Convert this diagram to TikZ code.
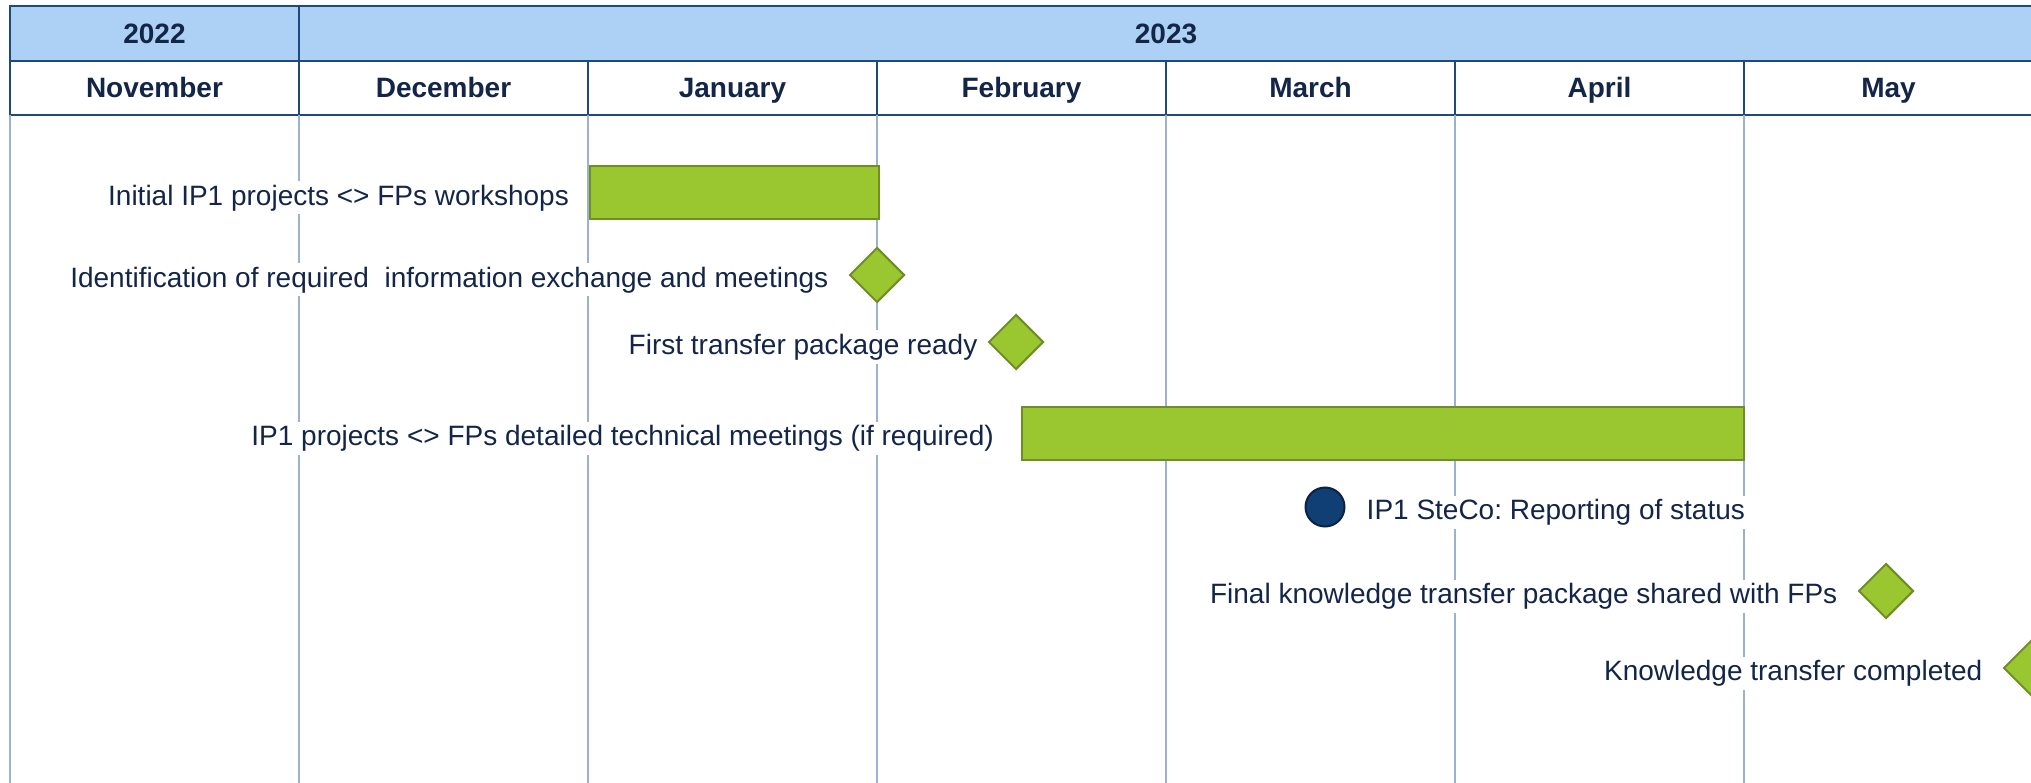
\documentclass[tikz,border=0pt]{standalone}
\usepackage{fontspec}
\setmainfont{Liberation Sans}
\usepackage{tikz}
\usetikzlibrary{shapes.geometric,positioning}
\frenchspacing

\definecolor{headblue}{RGB}{173,209,245}
\definecolor{edgeblue}{RGB}{31,73,125}
\definecolor{inkblue}{RGB}{19,38,72}
\definecolor{gridblue}{RGB}{155,178,206}
\definecolor{barfill}{RGB}{154,198,48}
\definecolor{baredge}{RGB}{112,142,40}
\definecolor{dotfill}{RGB}{16,63,115}
\definecolor{dotedge}{RGB}{10,34,68}

\tikzset{
  yearcell/.style={draw=edgeblue, line width=1.3pt, fill=headblue, inner sep=0pt, outer sep=0pt,
    minimum height=55pt, text height=26pt, text depth=6pt, text=inkblue,
    font=\fontsize{28}{33}\selectfont\bfseries},
  monthcell/.style={draw=edgeblue, line width=1.3pt, fill=white, inner sep=0pt, outer sep=0pt,
    minimum width=289pt, minimum height=54pt, text height=26pt, text depth=6pt, text=inkblue,
    font=\fontsize{28}{33}\selectfont\bfseries},
  gridline/.style={draw=gridblue, line width=1.2pt},
  taskbar/.style={draw=baredge, line width=2pt, fill=barfill, inner sep=0pt, minimum height=53pt},
  milestone/.style={diamond, aspect=1, draw=baredge, line width=2pt, fill=barfill, inner sep=0pt, minimum size=55pt},
  steering/.style={circle, draw=dotedge, line width=2pt, fill=dotfill, inner sep=0pt, minimum size=39pt},
  tasklabel/.style={fill=white, inner sep=3pt, text height=21pt, text depth=6pt, yshift=-5pt,
    text=inkblue, font=\fontsize{28}{33}\selectfont}
}

\begin{document}
\begin{tikzpicture}[x=1pt,y=-1pt]
      \useasboundingbox (0,0) rectangle (2031,783);
      \coordinate (bottom) at (0,783);

      % header rows
      \node[yearcell, minimum width=289pt] (y2022) at (154.5,33.5) {2022};
      \node[yearcell, minimum width=1734pt] (y2023) at (1166,33.5) {2023};
      \foreach \mname [count=\i] in {November,December,January,February,March,April,May}
        \node[monthcell] (m\i) at ({10+(\i-0.5)*289},88) {\mname};

      % month grid
      \foreach \i in {1,...,7}
        \draw[gridline] (m\i.south west) -- (m\i.south west |- bottom);

      % tasks
      \node[taskbar, minimum width=289pt] (workshops) at (734.5,193) {};
      \node[tasklabel, left=17pt of workshops] (workshopstxt) {Initial IP1 projects <> FPs workshops};

      \node[milestone] (ident) at (877,275) {};
      \node[tasklabel, left=17pt of ident] (identtxt) {Identification of required \ information exchange and meetings};

      \node[milestone] (firstpkg) at (1016,342) {};
      \node[tasklabel, left=7pt of firstpkg] (firstpkgtxt) {First transfer package ready};

      \node[taskbar, minimum width=722pt] (techmeet) at (1383,433) {};
      \node[tasklabel, left=24pt of techmeet] (techmeettxt) {IP1 projects <> FPs detailed technical meetings (if required)};

      \node[steering] (steco) at (1325,507) {};
      \node[tasklabel, right=18pt of steco] (stecotxt) {IP1 SteCo: Reporting of status};

      \node[milestone] (finalpkg) at (1886,591) {};
      \node[tasklabel, left=17pt of finalpkg] (finalpkgtxt) {Final knowledge transfer package shared with FPs};

      \node[milestone] (done) at (2031,668) {};
      \node[tasklabel, left=17pt of done] (donetxt) {Knowledge transfer completed};
\end{tikzpicture}
\end{document}
